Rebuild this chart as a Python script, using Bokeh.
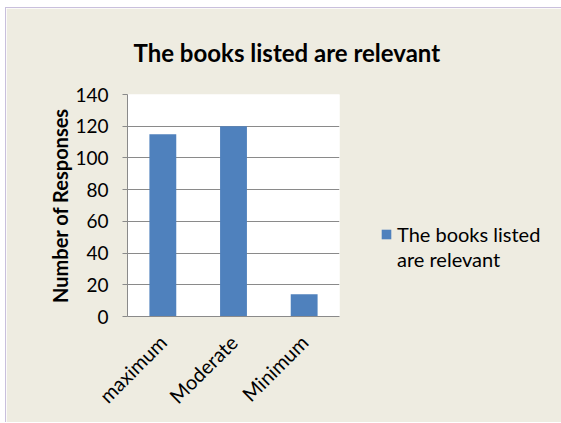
from bokeh.plotting import figure
from bokeh.models import FactorRange, Range1d, FixedTicker, Legend, LegendItem
from bokeh.embed import file_html
from bokeh.resources import INLINE

categories = ["maximum", "Moderate", "Minimum"]
values = [115, 120, 14]
y_ticks = [0, 20, 40, 60, 80, 100, 120, 140]
series_name = "The books listed are relevant"
title_text = "The books listed are relevant"
y_label = "Number of Responses"

FONT = "Lato"
BG = "#EEECE1"
BAR = "#4F81BD"
GRID = "#8A8A8A"

p = figure(
    frame_width=212, frame_height=222,
    x_range=FactorRange(*categories, range_padding=0),
    y_range=Range1d(0, 140),
    output_backend="svg", toolbar_location=None,
    min_border_left=121, min_border_right=223,
    min_border_top=86, min_border_bottom=106,
)
p.margin = (7, 0, 0, 5)
p.styles = {"border-left": "1px solid #C9C0DC", "border-top": "1px solid #C9C0DC"}
p.border_fill_color = BG
p.background_fill_color = "white"
p.outline_line_color = None

r = p.vbar(x=categories, top=values, width=0.38, fill_color=BAR, line_color=None)
ghost = p.vbar(x=categories[:1], top=[0], width=0.38, fill_alpha=0, line_alpha=0)

p.title.text = title_text
p.title.align = "left"
p.title.offset = 6
p.title.standoff = 55
p.title.vertical_align = "bottom"
p.title.text_font = FONT
p.title.text_font_size = "24px"
p.title.text_font_style = "bold"
p.title.text_color = "black"
p.title.text_line_height = 1.0

p.yaxis.ticker = FixedTicker(ticks=y_ticks)
p.yaxis.axis_label = y_label
p.yaxis.axis_label_text_font = FONT
p.yaxis.axis_label_text_font_size = "20px"
p.yaxis.axis_label_text_font_style = "bold"
p.yaxis.axis_label_text_color = "black"
p.yaxis.axis_label_standoff = 0
p.yaxis.major_label_text_font = FONT
p.yaxis.major_label_text_font_size = "19px"
p.yaxis.major_label_text_color = "black"
p.yaxis.major_label_standoff = 14
p.yaxis.major_tick_out = 5
p.yaxis.major_tick_in = 0
p.yaxis.minor_tick_line_color = None
p.yaxis.axis_line_color = GRID
p.yaxis.major_tick_line_color = GRID

p.xaxis.major_label_orientation = 0.785398
p.xaxis.major_label_text_font = FONT
p.xaxis.major_label_text_font_size = "20px"
p.xaxis.major_label_text_color = "black"
p.xaxis.major_label_standoff = 16
p.xaxis.major_tick_line_color = None
p.xaxis.axis_line_color = GRID

p.xgrid.grid_line_color = None
p.ygrid.grid_line_color = GRID
p.ygrid.grid_line_width = 1

words = series_name.split(" ")
line1 = " ".join(words[:3])
line2 = " ".join(words[3:])

legend = Legend(
    items=[LegendItem(label=line1, renderers=[r]),
           LegendItem(label=line2, renderers=[ghost])],
    location=(41, 45),
    padding=0, margin=0, spacing=1,
    glyph_width=12, glyph_height=12, label_standoff=5,
    border_line_color=None, background_fill_alpha=0,
    label_text_font=FONT, label_text_font_size="20px", label_text_color="black",
    label_height=24,
)
p.add_layout(legend, "right")

open("out.html", "w").write(file_html(p, INLINE))
